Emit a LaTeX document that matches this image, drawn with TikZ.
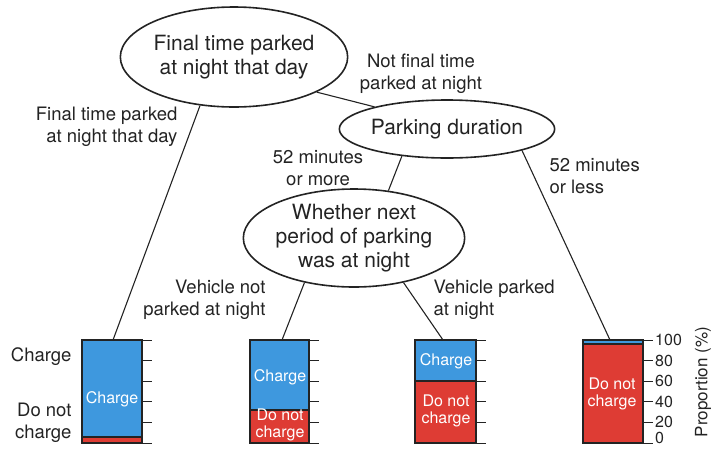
\documentclass[tikz,border=0pt]{standalone}
\usepackage{fontspec}
\setmainfont{TeX Gyre Heros}
\usepackage{xcolor}
\usetikzlibrary{shapes.geometric}

\definecolor{ink}{RGB}{35,35,35}
\definecolor{chg}{RGB}{62,152,222}
\definecolor{nochg}{RGB}{222,60,52}

\tikzset{
  bubble/.style={ellipse, draw=ink, line width=1.6pt, inner sep=0pt, align=center,
    text=ink, font=\fontsize{21}{24}\selectfont},
  branch/.style={text=ink, font=\fontsize{18.5}{22}\selectfont},
  link/.style={draw=ink, line width=1.1pt},
  barbox/.style={draw=ink, line width=1.4pt},
  inbar/.style={white, align=center, font=\fontsize{16}{17}\selectfont},
  tick/.style={draw=ink, line width=0.9pt},
}

\begin{document}
\begin{tikzpicture}[x=1pt, y=-1pt]
  \useasboundingbox (0,0) rectangle (720,448);
  % splits
  \node[bubble, minimum width=218pt, minimum height=100pt] (e1) at (234,57)
    {Final time parked\\at night that day};
  \node[bubble, minimum width=199pt, minimum height=58pt] (e2) at (447,129)
    {Parking duration};
  \node[bubble, minimum width=198pt, minimum height=98pt] (e3) at (354,238)
    {Whether next\\period of parking\\was at night};
  % where each branch meets its bar
  \coordinate (top1) at (113,340);
  \coordinate (top2) at (282,340);
  \coordinate (top3) at (443,340);
  \coordinate (top4) at (610,340);
  % branches
  \draw[link] (e1.235) -- (top1);
  \draw[link] (e1.-23) -- (e2.163);
  \draw[link] (e2.211) -- (e3.54);
  \draw[link] (e2.344) -- (top4);
  \draw[link] (e3.222) -- (top2);
  \draw[link] (e3.318) -- (top3);
  % branch labels
  \node[branch, align=right, anchor=east] (lfinal) at (181,127) {Final time parked\\at night that day};
  \node[branch, align=center] (lnotfinal) at (421,74) {Not final time\\parked at night};
  \node[branch, align=center] (lmore) at (318,168) {52 minutes\\or more};
  \node[branch, align=left, anchor=west] (lless) at (546,176) {52 minutes\\or less};
  \node[branch, align=right, anchor=east] (lnotnight) at (269,300) {Vehicle not\\parked at night};
  \node[branch, align=left, anchor=west] (lnight) at (430,300) {Vehicle parked\\at night};
  % bar 1
  \fill[chg] (82,340) rectangle (142,437);
  \fill[nochg] (82,437) rectangle (142,443);
  \draw[barbox] (82,437) -- (142,437);
  \draw[barbox] (82,340) rectangle (142,443);
  \node[inbar] (c1) at (112,399) {Charge};
  % bar 2
  \fill[chg] (250,340) rectangle (309,410);
  \fill[nochg] (250,410) rectangle (309,443);
  \draw[barbox] (250,410) -- (309,410);
  \draw[barbox] (250,340) rectangle (309,443);
  \node[inbar] (c2) at (280,377) {Charge};
  \node[inbar] (n2) at (280,425) {Do not\\charge};
  % bar 3
  \fill[chg] (415,340) rectangle (476,381);
  \fill[nochg] (415,381) rectangle (476,443);
  \draw[barbox] (415,381) -- (476,381);
  \draw[barbox] (415,340) rectangle (476,443);
  \node[inbar] (c3) at (446,361) {Charge};
  \node[inbar] (n3) at (446,411) {Do not\\charge};
  % bar 4
  \fill[chg] (583,340) rectangle (643,344);
  \fill[nochg] (583,344) rectangle (643,443);
  \draw[barbox] (583,344) -- (643,344);
  \draw[barbox] (583,340) rectangle (643,443);
  \node[inbar] (n4) at (612,394) {Do not\\charge};
  % ticks every 20 %
  \foreach \xr in {142,309,476,643}
    \foreach \k in {0,...,5}
      \draw[tick] (\xr,{340+20.6*\k}) -- ++(10,0);
  \foreach \v [count=\k from 0] in {100,80,60,40,20}
    \node[text=ink, anchor=west, inner sep=0pt, font=\fontsize{16}{16}\selectfont] (num\v) at (655,{340+20.6*\k}) {\v};
  \node[text=ink, anchor=west, inner sep=0pt, font=\fontsize{16}{16}\selectfont] (num0) at (655,438) {0};
  \node[text=ink, rotate=90, font=\fontsize{17}{17}\selectfont] (axis) at (703,382) {Proportion (\%)};
  % legend on the left
  \node[branch, anchor=east] (kcharge) at (75,357) {Charge};
  \node[branch, align=right, anchor=east] (knot) at (75,423) {Do not\\charge};
\end{tikzpicture}
\end{document}
